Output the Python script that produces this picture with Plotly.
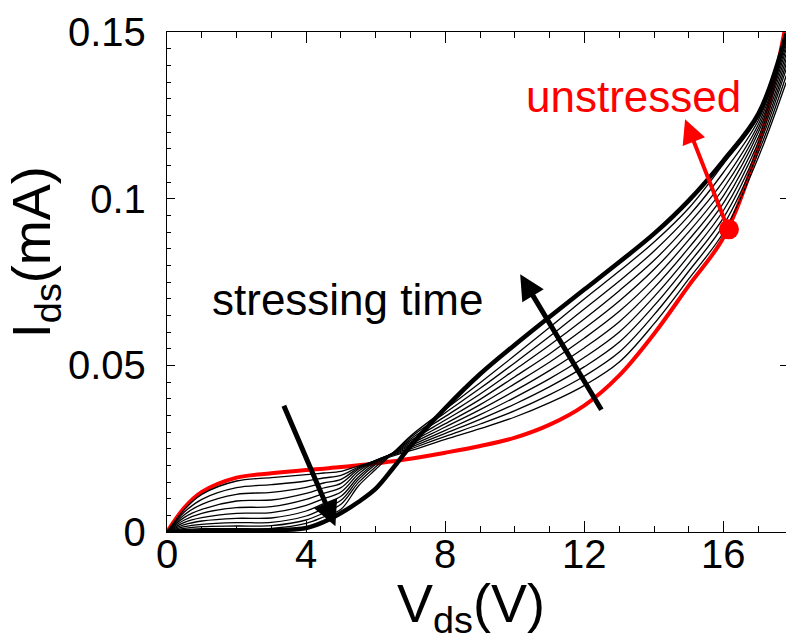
import plotly.graph_objects as go

# Drain voltage grid (V) shared by every I-V sweep
v_ds = [0, 0.5, 1, 2, 3, 4, 4.5, 5, 5.5, 6, 6.5, 7, 8, 9, 10, 11, 12, 13, 14, 15, 16, 17, 17.8]

# Drain current (mA) before stress
i_unstressed = [0, .0073, .0120, .0163, .0176, .0186, .0190, .0195, .0200, .0206, .0212, .0220,
                .0238, .0258, .0283, .0322, .0380, .0470, .0595, .0740, .0885, .1160, .1530]

# Intermediate stress steps (mA), shortest to longest stress
i_t01 = [0, .0068, .0113, .0153, .0163, .0172, .0177, .0182, .0198, .0212, .0228, .0244,
         .0278, .0310, .0345, .0388, .0440, .0510, .0625, .0760, .0900, .1125, .1350]
i_t02 = [0, .0060, .0098, .0133, .0142, .0153, .0162, .0170, .0195, .0214, .0231, .0249,
         .0287, .0324, .0364, .0412, .0468, .0540, .0652, .0783, .0922, .1140, .1370]
i_t03 = [0, .0052, .0083, .0113, .0119, .0134, .0147, .0158, .0192, .0215, .0233, .0254,
         .0296, .0338, .0384, .0436, .0496, .0570, .0679, .0806, .0944, .1155, .1390]
i_t04 = [0, .0044, .0068, .0093, .0096, .0116, .0132, .0146, .0188, .0215, .0235, .0259,
         .0305, .0352, .0404, .0460, .0524, .0600, .0706, .0829, .0966, .1170, .1405]
i_t05 = [0, .0036, .0056, .0073, .0076, .0098, .0116, .0133, .0182, .0214, .0236, .0264,
         .0315, .0367, .0424, .0485, .0553, .0631, .0733, .0853, .0988, .1185, .1420]
i_t06 = [0, .0029, .0043, .0056, .0058, .0080, .0100, .0120, .0174, .0212, .0237, .0269,
         .0325, .0382, .0445, .0510, .0582, .0662, .0760, .0877, .1010, .1200, .1435]
i_t07 = [0, .0022, .0033, .0041, .0042, .0063, .0085, .0107, .0165, .0208, .0238, .0274,
         .0336, .0398, .0466, .0535, .0611, .0693, .0788, .0901, .1032, .1212, .1450]
i_t08 = [0, .0016, .0023, .0028, .0029, .0048, .0070, .0095, .0157, .0203, .0238, .0279,
         .0347, .0414, .0487, .0561, .0640, .0724, .0815, .0925, .1054, .1224, .1462]
i_t09 = [0, .0011, .0016, .0018, .0019, .0036, .0057, .0083, .0148, .0196, .0238, .0284,
         .0358, .0431, .0508, .0587, .0670, .0753, .0843, .0949, .1080, .1236, .1475]
i_t10 = [0, .0007, .0010, .0010, .0011, .0026, .0045, .0068, .0138, .0188, .0237, .0288,
         .0368, .0448, .0530, .0614, .0700, .0783, .0870, .0972, .1105, .1246, .1490]

# Longest stress (mA)
i_final = [0, .0001, .0002, .0003, .0005, .0012, .0030, .0057, .0090, .0130, .0192, .0258,
           .0372, .0474, .0562, .0646, .0728, .0810, .0895, .0995, .1115, .1255, .1495]

# Marked point on the unstressed sweep
marker_v = [16.15]
marker_i = [0.0908]

# Axis ticks
x_ticks = [0, 4, 8, 12, 16]
x_tick_text = ["0", "4", "8", "12", "16"]
y_ticks = [0, 0.05, 0.1, 0.15]
y_tick_text = ["0", "0.05", "0.1", "0.15"]

FONT = "Liberation Sans, Arial, sans-serif"
RED = "#ff0000"

fig = go.Figure()

fig.add_trace(go.Scatter(x=v_ds, y=i_unstressed, mode="lines",
                         line=dict(color=RED, width=4, shape="spline", smoothing=1.0),
                         showlegend=False))

for series in [i_t01, i_t02, i_t03, i_t04, i_t05, i_t06, i_t07, i_t08, i_t09, i_t10]:
    fig.add_trace(go.Scatter(x=v_ds, y=series, mode="lines",
                             line=dict(color="black", width=1.3, shape="spline", smoothing=1.0),
                             showlegend=False))

fig.add_trace(go.Scatter(x=v_ds, y=i_final, mode="lines",
                         line=dict(color="black", width=4.5, shape="spline", smoothing=1.0),
                         showlegend=False))

fig.add_trace(go.Scatter(x=marker_v, y=marker_i, mode="markers",
                         marker=dict(color=RED, size=20), showlegend=False,
                         cliponaxis=False))

# Right-hand axis carrying only the major ticks
fig.add_trace(go.Scatter(x=[None], y=[None], yaxis="y2", showlegend=False))

axis_font = dict(family=FONT, size=40, color="black")
title_font = dict(family=FONT, size=54, color="black")

annotations = [
    # arrow: low-bias current drops with stressing time
    dict(x=4.84, y=0.0017, ax=3.34, ay=0.0383, xref="x", yref="y", axref="x", ayref="y",
         text="", showarrow=True, arrowhead=2, arrowsize=1.0, arrowwidth=5,
         arrowcolor="black", standoff=0),
    # arrow: high-bias current rises with stressing time
    dict(x=10.15, y=0.0773, ax=12.51, ay=0.0362, xref="x", yref="y", axref="x", ayref="y",
         text="", showarrow=True, arrowhead=2, arrowsize=1.0, arrowwidth=5,
         arrowcolor="black", standoff=0),
    # arrow from the marked point to its label
    dict(x=14.89, y=0.1238, ax=16.13, ay=0.0908, xref="x", yref="y", axref="x", ayref="y",
         text="", showarrow=True, arrowhead=2, arrowsize=1.2, arrowwidth=4,
         arrowcolor=RED, standoff=0),
    dict(x=5.2, y=0.0697, xref="x", yref="y", text="stressing time", showarrow=False,
         xanchor="center", yanchor="middle", font=dict(family=FONT, size=44, color="black")),
    dict(x=13.42, y=0.1307, xref="x", yref="y", text="unstressed", showarrow=False,
         xanchor="center", yanchor="middle", font=dict(family=FONT, size=44, color=RED)),
    # axis titles
    dict(x=-0.213, y=0.56, xref="paper", yref="paper", text="I<sub>ds</sub>(mA)",
         textangle=-90, showarrow=False, xanchor="center", yanchor="middle",
         font=title_font),
    dict(x=0.491, y=-0.078, xref="paper", yref="paper", text="V<sub>ds</sub>(V)",
         showarrow=False, xanchor="center", yanchor="top", font=title_font),
]

# bottom tick labels, set close under the axis line
for xv, label in zip(x_ticks, x_tick_text):
    annotations.append(dict(x=xv, y=-0.044, xref="x", yref="paper", text=label,
                            showarrow=False, xanchor="center", yanchor="middle",
                            font=axis_font))

fig.update_layout(
    width=786, height=644,
    margin=dict(l=167, r=0, t=32, b=112),
    paper_bgcolor="white", plot_bgcolor="white",
    annotations=annotations,
    xaxis=dict(
        range=[0, 17.79], tickmode="array", tickvals=x_ticks, showticklabels=False,
        ticks="inside", ticklen=11, tickwidth=1.2, tickcolor="black",
        minor=dict(dtick=1, ticks="inside", ticklen=6, tickwidth=1, tickcolor="black"),
        showline=True, linecolor="black", linewidth=1.3, mirror="ticks",
        showgrid=False, zeroline=False,
    ),
    yaxis=dict(
        range=[0, 0.15], tickmode="array", tickvals=y_ticks, ticktext=y_tick_text,
        ticks="inside", ticklen=8, tickwidth=1.2, tickcolor="black",
        minor=dict(dtick=0.005, ticks="inside", ticklen=4, tickwidth=1, tickcolor="black"),
        showline=True, linecolor="black", linewidth=1.3,
        showgrid=False, zeroline=False, tickfont=axis_font, ticklabelstandoff=12,
    ),
    yaxis2=dict(
        range=[0, 0.15], overlaying="y", side="right", tickvals=[0.05, 0.1],
        ticks="inside", ticklen=6, tickwidth=1.2, tickcolor="black",
        showticklabels=False, showline=False, showgrid=False, zeroline=False,
    ),
)

fig.write_html("out.html")
